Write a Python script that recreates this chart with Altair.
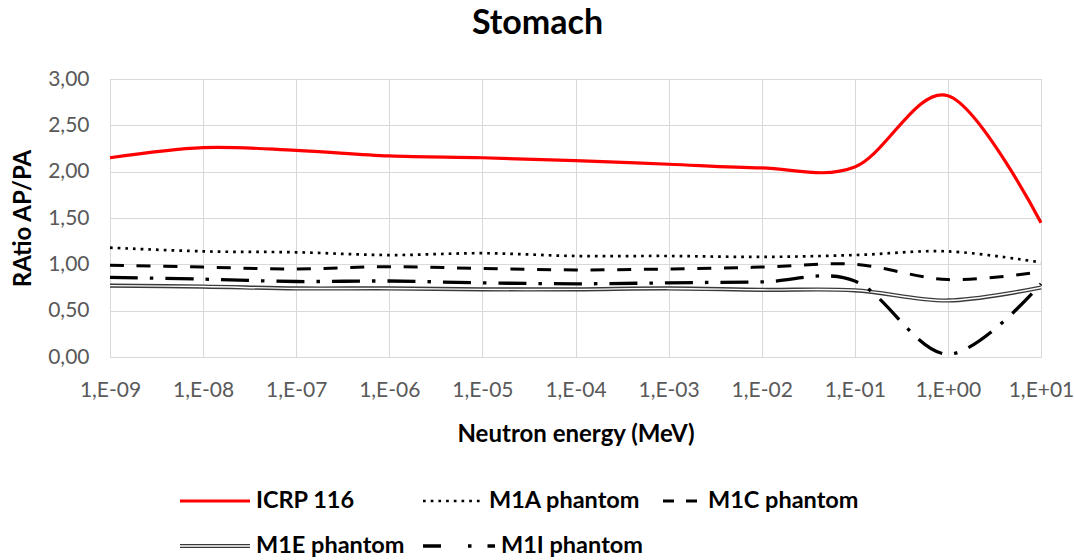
import altair as alt
import pandas as pd

# ---------------- data ----------------
energies = [1e-9, 1e-8, 1e-7, 1e-6, 1e-5, 1e-4, 1e-3, 1e-2, 1e-1, 1e0, 1e1]
series_names = ["ICRP 116", "M1A phantom", "M1C phantom", "M1E phantom", "M1I phantom"]
icrp_116 = [2.15, 2.26, 2.23, 2.17, 2.15, 2.12, 2.08, 2.04, 2.05, 2.82, 1.45]
m1a = [1.18, 1.14, 1.13, 1.10, 1.12, 1.09, 1.09, 1.08, 1.10, 1.14, 1.02]
m1c = [0.99, 0.97, 0.95, 0.975, 0.955, 0.94, 0.95, 0.97, 1.00, 0.835, 0.92]
m1e = [0.77, 0.76, 0.74, 0.74, 0.73, 0.73, 0.74, 0.725, 0.72, 0.61, 0.75]
m1i = [0.86, 0.84, 0.815, 0.82, 0.80, 0.79, 0.80, 0.81, 0.82, 0.03, 0.79]
y_ticks = [0.0, 0.5, 1.0, 1.5, 2.0, 2.5, 3.0]

rows = []
for name, vals in zip(series_names, [icrp_116, m1a, m1c, m1e, m1i]):
    for e, v in zip(energies, vals):
        rows.append({"energy": e, "ratio": v, "series": name})
df = pd.DataFrame(rows)
one = pd.DataFrame({"k": [0]})

FONT = "Lato"
W, H = 931, 278
GRID = "#d9d9d9"
LABEL = "#595959"

exp = "round(log(datum.value)/LN10)"
x_enc = alt.X(
    "energy:Q",
    scale=alt.Scale(type="log", domain=[1e-9, 10], nice=False),
    axis=alt.Axis(
        values=energies,
        labelExpr=f"'1,E' + ({exp} < 0 ? '-' : '+') + (abs({exp}) < 10 ? '0' : '') + abs({exp})",
        title="Neutron energy (MeV)",
        grid=True, gridColor=GRID, gridWidth=1,
        domain=False, ticks=False,
        labelColor=LABEL, labelFont=FONT, labelFontSize=21, labelPadding=22,
        labelOverlap=False, labelFlush=False,
        titleFont=FONT, titleFontSize=24, titleFontWeight="bold", titleColor="black",
        titlePadding=22,
    ),
)
y_enc = alt.Y(
    "ratio:Q",
    scale=alt.Scale(domain=[0, 3], nice=False),
    axis=alt.Axis(
        values=y_ticks,
        labelExpr="replace(format(datum.value, '.2f'), '.', ',')",
        title="RAtio AP/PA",
        grid=True, gridColor=GRID, gridWidth=1,
        domain=False, ticks=False,
        labelColor=LABEL, labelFont=FONT, labelFontSize=21, labelPadding=21,
        titleFont=FONT, titleFontSize=24, titleFontWeight="bold", titleColor="black",
        titlePadding=12,
    ),
)


def line(name, **style):
    return (
        alt.Chart(df)
        .transform_filter(alt.datum.series == name)
        .mark_line(interpolate="cardinal", **style)
        .encode(x=x_enc, y=y_enc)
    )


styles = {
    "ICRP 116": [dict(color="#ff0000", strokeWidth=3.2)],
    "M1A phantom": [dict(color="black", strokeWidth=2.7, strokeDash=[2.7, 5])],
    "M1C phantom": [dict(color="black", strokeWidth=3, strokeDash=[14, 12.7])],
    "M1E phantom": [dict(color="#3a3a3a", strokeWidth=4.2), dict(color="white", strokeWidth=1.4)],
    "M1I phantom": [dict(color="black", strokeWidth=3.3, strokeDash=[28, 12, 3.5, 12])],
}

layers = []
for name in ["M1E phantom", "M1C phantom", "M1A phantom", "M1I phantom", "ICRP 116"]:
    for st in styles[name]:
        layers.append(line(name, **st))

# ---------------- manual legend (layout positions relative to plot origin) ----------------
legend_layout = {
    "ICRP 116": (70, 140, 422),
    "M1A phantom": (313, 373, 422),
    "M1C phantom": (553, 592, 422),
    "M1E phantom": (70, 140, 467),
    "M1I phantom": (313, 385, 467),
}
legend_styles = {
    "M1I phantom": [dict(color="black", strokeWidth=3.3, strokeDash=[18, 27, 3.5, 16, 7.5, 20])],
    "M1C phantom": [dict(color="black", strokeWidth=3, strokeDash=[11, 12])],
}
for name in series_names:
    x1, x2, yy = legend_layout[name]
    for st in legend_styles.get(name, styles[name]):
        layers.append(
            alt.Chart(one).mark_rule(**st).encode(
                x=alt.value(x1), x2=alt.value(x2), y=alt.value(yy)
            )
        )
    layers.append(
        alt.Chart(one)
        .mark_text(align="left", baseline="middle", font=FONT, fontSize=23.5,
                   fontWeight="bold", color="black")
        .encode(x=alt.value(x2 + 6), y=alt.value(yy), text=alt.value(name))
    )

chart = (
    alt.layer(*layers)
    .properties(
        width=W,
        height=H,
        title=alt.TitleParams("Stomach", font=FONT, fontSize=34, fontWeight="bold",
                              color="black", anchor="middle", offset=27, dx=-38),
        autosize=alt.AutoSizeParams(type="none"),
        padding={"left": 110, "top": 79, "right": 33, "bottom": 203},
    )
    .configure_view(stroke=None)
    .configure(background="white")
)

chart.save("out.html", embed_options={"renderer": "svg", "actions": False})
